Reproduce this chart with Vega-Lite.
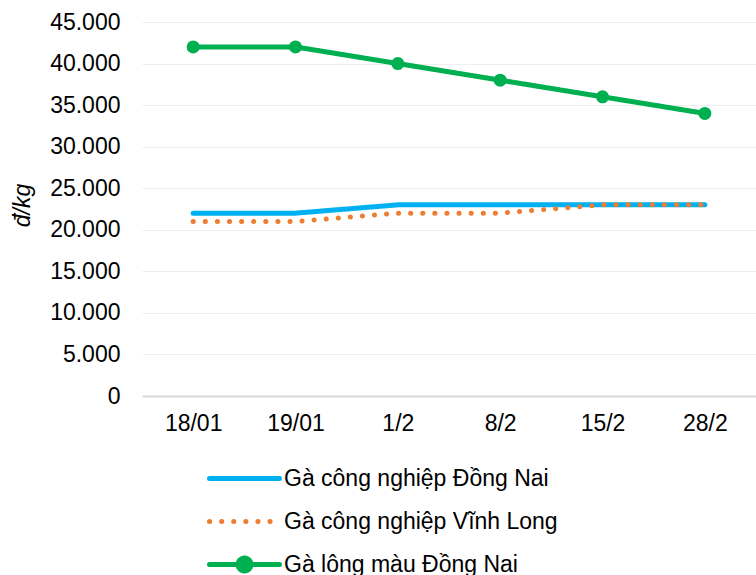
{
  "$schema": "https://vega.github.io/schema/vega-lite/v6.json",
  "width": 614,
  "height": 374,
  "autosize": "none",
  "padding": {"left": 142, "top": 22, "right": 0, "bottom": 179},
  "background": "white",
  "config": {
    "font": "Liberation Sans",
    "view": {"stroke": null}
  },
  "data": {
    "values": [
      {"date": "18/01", "series": "Gà công nghiệp Đồng Nai", "price": 22000},
      {"date": "19/01", "series": "Gà công nghiệp Đồng Nai", "price": 22000},
      {"date": "1/2", "series": "Gà công nghiệp Đồng Nai", "price": 23000},
      {"date": "8/2", "series": "Gà công nghiệp Đồng Nai", "price": 23000},
      {"date": "15/2", "series": "Gà công nghiệp Đồng Nai", "price": 23000},
      {"date": "28/2", "series": "Gà công nghiệp Đồng Nai", "price": 23000},
      {"date": "18/01", "series": "Gà công nghiệp Vĩnh Long", "price": 21000},
      {"date": "19/01", "series": "Gà công nghiệp Vĩnh Long", "price": 21000},
      {"date": "1/2", "series": "Gà công nghiệp Vĩnh Long", "price": 22000},
      {"date": "8/2", "series": "Gà công nghiệp Vĩnh Long", "price": 22000},
      {"date": "15/2", "series": "Gà công nghiệp Vĩnh Long", "price": 23000},
      {"date": "28/2", "series": "Gà công nghiệp Vĩnh Long", "price": 23000},
      {"date": "18/01", "series": "Gà lông màu Đồng Nai", "price": 42000},
      {"date": "19/01", "series": "Gà lông màu Đồng Nai", "price": 42000},
      {"date": "1/2", "series": "Gà lông màu Đồng Nai", "price": 40000},
      {"date": "8/2", "series": "Gà lông màu Đồng Nai", "price": 38000},
      {"date": "15/2", "series": "Gà lông màu Đồng Nai", "price": 36000},
      {"date": "28/2", "series": "Gà lông màu Đồng Nai", "price": 34000}
    ]
  },
  "encoding": {
    "x": {
      "field": "date",
      "type": "ordinal",
      "sort": ["18/01", "19/01", "1/2", "8/2", "15/2", "28/2"],
      "scale": {"paddingInner": 1, "paddingOuter": 0.5},
      "axis": {
        "title": null,
        "labelAngle": 0,
        "labelFontSize": 23,
        "labelColor": "#000000",
        "labelPadding": 16,
        "ticks": false,
        "domainColor": "#d9d9d9",
        "domainWidth": 2,
        "grid": false
      }
    },
    "y": {
      "field": "price",
      "type": "quantitative",
      "scale": {"domain": [0, 45000], "nice": false},
      "axis": {
        "values": [0, 5000, 10000, 15000, 20000, 25000, 30000, 35000, 40000, 45000],
        "labelExpr": "replace(format(datum.value, ','), /,/g, '.')",
        "labelFontSize": 23,
        "labelColor": "#000000",
        "labelPadding": 22,
        "ticks": false,
        "domain": false,
        "gridColor": "#eeeeee",
        "gridWidth": 1,
        "title": "đ/kg",
        "titleFontSize": 23,
        "titleFontStyle": "italic",
        "titleFontWeight": "normal",
        "titleColor": "#000000",
        "titleX": -120,
        "titleY": 183,
        "titleAlign": "center",
        "titleBaseline": "middle"
      }
    },
    "color": {
      "field": "series",
      "type": "nominal",
      "scale": {
        "domain": ["Gà công nghiệp Đồng Nai", "Gà công nghiệp Vĩnh Long", "Gà lông màu Đồng Nai"],
        "range": ["#00b0f0", "#ed7d31", "#00b050"]
      },
      "legend": {
        "title": null,
        "orient": "none",
        "legendX": 86,
        "legendY": 440,
        "direction": "vertical",
        "symbolType": "M-2.5,0H2.5",
        "symbolSize": 784,
        "symbolStrokeWidth": 5,
        "labelFontSize": 23,
        "labelColor": "#000000",
        "labelOffset": 23,
        "rowPadding": 14,
        "labelLimit": 500,
        "encode": {
          "symbols": {
            "update": {
              "shape": {"signal": "datum.value === 'Gà lông màu Đồng Nai' ? 'M-2.5,0H2.5M-0.46,0A0.46,0.46 0 1,0 0.46,0A0.46,0.46 0 1,0 -0.46,0' : 'M-2.5,0H2.5'"},
              "strokeDash": {"signal": "datum.value === 'Gà công nghiệp Vĩnh Long' ? [0.1, 11.5] : [1, 0]"},
              "strokeCap": {"value": "round"},
              "fill": {"signal": "datum.value === 'Gà lông màu Đồng Nai' ? '#00b050' : 'transparent'"}
            }
          }
        }
      }
    }
  },
  "layer": [
    {
      "mark": {"type": "line", "strokeWidth": 5, "strokeCap": "round"},
      "encoding": {
        "strokeDash": {
          "field": "series",
          "type": "nominal",
          "scale": {
            "domain": ["Gà công nghiệp Đồng Nai", "Gà công nghiệp Vĩnh Long", "Gà lông màu Đồng Nai"],
            "range": [[1, 0], [0.1, 12], [1, 0]]
          },
          "legend": null
        }
      }
    },
    {
      "transform": [{"filter": "datum.series === 'Gà lông màu Đồng Nai'"}],
      "mark": {"type": "point", "filled": true, "size": 170, "opacity": 1, "shape": "circle"},
      "encoding": {}
    }
  ]
}
